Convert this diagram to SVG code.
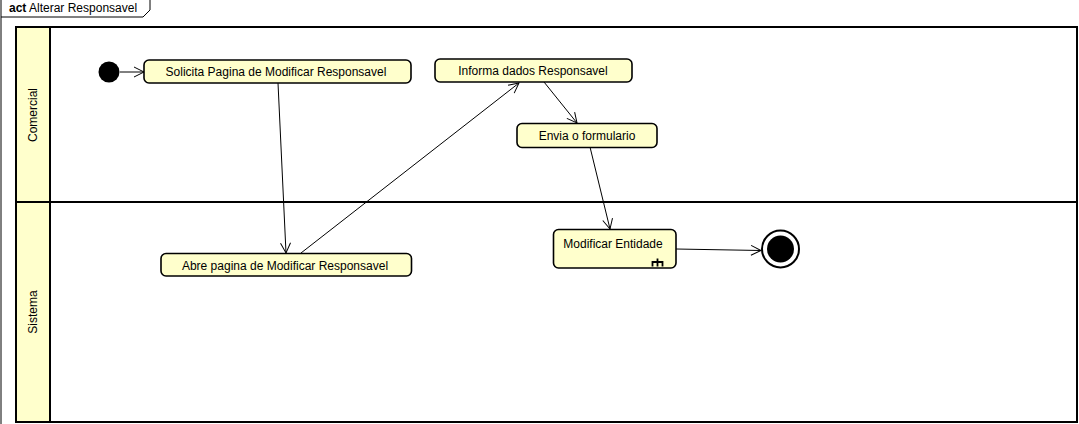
<svg xmlns="http://www.w3.org/2000/svg" width="1079" height="424" viewBox="0 0 1079 424">
<style>
text{font-family:"Liberation Sans",Arial,sans-serif;font-size:12px;fill:#000}
.act{fill:#ffffcc;stroke:#000;stroke-width:1.6}
.lane{fill:none;stroke:#000;stroke-width:2}
.hdr{fill:#ffffcc;stroke:#000;stroke-width:2}
.edge{fill:none;stroke:#000;stroke-width:1;marker-end:url(#arr)}
</style>
<defs>
<marker id="arr" markerUnits="userSpaceOnUse" markerWidth="12" markerHeight="12" refX="10" refY="5" orient="auto" overflow="visible">
<path d="M0,0 L10,5 L0,10" fill="none" stroke="#000" stroke-width="1"/>
</marker>
</defs>
<rect width="1079" height="424" fill="#fff"/>
<g id="frame">
<path d="M1,0 V424 M1,17 H143 L150,10 V0" fill="none" stroke="#000" stroke-width="1"/>
<text x="9" y="12"><tspan font-weight="bold">act</tspan> Alterar Responsavel</text>
</g>
<g id="lanes">
<rect x="16" y="27" width="34" height="395" class="hdr"/>
<rect x="16" y="27" width="1061" height="395" class="lane"/>
<line x1="16" y1="202" x2="1077" y2="202" class="lane"/>
<line x1="50" y1="27" x2="50" y2="422" class="lane"/>
<text transform="translate(37,115) rotate(-90)" text-anchor="middle">Comercial</text>
<text transform="translate(37,312) rotate(-90)" text-anchor="middle">Sistema</text>
</g>
<g id="connectors">
<line x1="120" y1="72" x2="144" y2="72" class="edge"/>
<line x1="278" y1="83" x2="286" y2="253" class="edge"/>
<line x1="301" y1="253" x2="519" y2="83" class="edge"/>
<line x1="544" y1="82" x2="577" y2="123" class="edge"/>
<line x1="590" y1="147" x2="610" y2="229" class="edge"/>
<line x1="676" y1="249" x2="761" y2="250.5" class="edge"/>
</g>
<g id="initial">
<circle cx="109" cy="72" r="10.5" fill="#000"/>
</g>
<g id="solicita">
<rect x="144" y="60" width="267" height="23" rx="5" class="act"/>
<text x="276" y="76" text-anchor="middle">Solicita Pagina de Modificar Responsavel</text>
</g>
<g id="informa">
<rect x="435" y="59" width="197" height="23" rx="5" class="act"/>
<text x="533" y="75" text-anchor="middle">Informa dados Responsavel</text>
</g>
<g id="envia">
<rect x="517" y="123.5" width="140" height="24" rx="5" class="act"/>
<text x="587" y="140" text-anchor="middle">Envia o formulario</text>
</g>
<g id="abre">
<rect x="161" y="253.5" width="250.5" height="22.5" rx="5" class="act"/>
<text x="285" y="269.5" text-anchor="middle">Abre pagina de Modificar Responsavel</text>
</g>
<g id="modificar">
<rect x="553.5" y="229.5" width="122.5" height="38.5" rx="5" class="act"/>
<text x="613" y="248" text-anchor="middle">Modificar Entidade</text>
<path d="M657.5,258.5 V262 M652.5,266.5 V262 H662.5 V266.5 M657.5,262 V266.5" fill="none" stroke="#000" stroke-width="1.8"/>
</g>
<g id="final">
<circle cx="780.5" cy="249" r="18.5" fill="#fff" stroke="#000" stroke-width="2"/>
<circle cx="780.5" cy="249" r="13.5" fill="#000"/>
</g>
</svg>
